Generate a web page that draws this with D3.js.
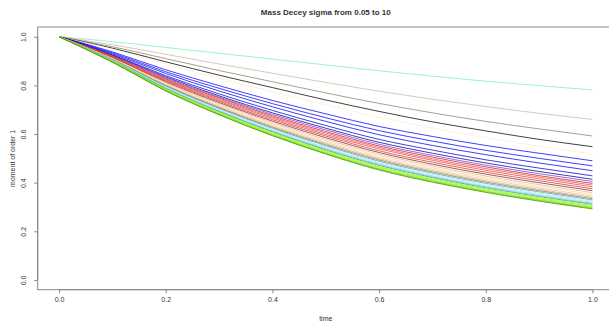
<!DOCTYPE html>
<html>
<head>
<meta charset="utf-8">
<script src="https://cdn.jsdelivr.net/npm/d3@7"></script>
<style>
  body { margin: 0; background: #fff; }
  text { font-family: "Liberation Sans", Arial, sans-serif; fill: #333; }
</style>
</head>
<body>
<div id="chart"></div>
<script>
// Data
var times = [0, 0.1, 0.2, 0.3, 0.4, 0.5, 0.6, 0.7, 0.8, 0.9, 1.0];
var xTicks = [0, 0.2, 0.4, 0.6, 0.8, 1.0];
var yTicks = [0, 0.2, 0.4, 0.6, 0.8, 1.0];

var lineColors = [
  "#76EEC6", "#CDB79E", "#8B7D6B", "#000000", "#FFEBCD",
  "#0000FF", "#0000FF", "#0000EE", "#0000CD", "#00008B",
  "#8A2BE2", "#A52A2A", "#FF4040", "#EE3B3B", "#CD3333", "#8B2323",
  "#DEB887", "#FFD39B", "#EEC591", "#CDAA7D", "#8B7355",
  "#5F9EA0", "#98F5FF", "#8EE5EE", "#7AC5CD", "#53868B",
  "#7FFF00", "#7FFF00", "#76EE00", "#66CD00", "#458B00"
];

// moment of order 1 for each sigma, sampled at the times above
var moments = [
  [1, 0.980, 0.956, 0.932, 0.908, 0.884, 0.860, 0.838, 0.817, 0.799, 0.781],
  [1, 0.967, 0.928, 0.888, 0.850, 0.812, 0.776, 0.743, 0.713, 0.685, 0.660],
  [1, 0.959, 0.910, 0.861, 0.815, 0.769, 0.726, 0.687, 0.652, 0.621, 0.592],
  [1, 0.953, 0.897, 0.842, 0.791, 0.740, 0.693, 0.650, 0.613, 0.578, 0.548],
  [1, 0.949, 0.888, 0.829, 0.774, 0.720, 0.669, 0.625, 0.585, 0.550, 0.518],
  [1, 0.938, 0.864, 0.799, 0.738, 0.683, 0.631, 0.590, 0.553, 0.521, 0.490],
  [1, 0.934, 0.856, 0.788, 0.725, 0.667, 0.614, 0.571, 0.533, 0.500, 0.469],
  [1, 0.930, 0.849, 0.777, 0.712, 0.652, 0.597, 0.553, 0.515, 0.481, 0.449],
  [1, 0.926, 0.840, 0.765, 0.697, 0.635, 0.578, 0.534, 0.494, 0.460, 0.428],
  [1, 0.924, 0.835, 0.757, 0.687, 0.624, 0.566, 0.521, 0.481, 0.446, 0.414],
  [1, 0.922, 0.831, 0.752, 0.681, 0.617, 0.558, 0.512, 0.472, 0.437, 0.405],
  [1, 0.920, 0.827, 0.748, 0.675, 0.610, 0.551, 0.505, 0.465, 0.429, 0.397],
  [1, 0.919, 0.824, 0.743, 0.670, 0.604, 0.545, 0.498, 0.458, 0.423, 0.390],
  [1, 0.917, 0.821, 0.739, 0.665, 0.598, 0.539, 0.492, 0.451, 0.416, 0.383],
  [1, 0.915, 0.818, 0.734, 0.659, 0.592, 0.531, 0.484, 0.443, 0.408, 0.375],
  [1, 0.914, 0.814, 0.729, 0.653, 0.585, 0.524, 0.476, 0.435, 0.400, 0.367],
  [1, 0.912, 0.811, 0.724, 0.647, 0.578, 0.517, 0.469, 0.427, 0.392, 0.359],
  [1, 0.910, 0.807, 0.720, 0.642, 0.572, 0.510, 0.462, 0.420, 0.385, 0.352],
  [1, 0.909, 0.804, 0.715, 0.636, 0.566, 0.503, 0.455, 0.413, 0.378, 0.345],
  [1, 0.907, 0.801, 0.711, 0.631, 0.561, 0.498, 0.449, 0.407, 0.372, 0.339],
  [1, 0.906, 0.799, 0.708, 0.627, 0.556, 0.493, 0.444, 0.402, 0.367, 0.334],
  [1, 0.905, 0.796, 0.705, 0.623, 0.552, 0.488, 0.439, 0.397, 0.362, 0.329],
  [1, 0.904, 0.794, 0.701, 0.619, 0.547, 0.483, 0.434, 0.392, 0.357, 0.324],
  [1, 0.902, 0.791, 0.698, 0.615, 0.543, 0.479, 0.429, 0.387, 0.352, 0.319],
  [1, 0.901, 0.789, 0.695, 0.612, 0.539, 0.475, 0.425, 0.383, 0.347, 0.315],
  [1, 0.900, 0.787, 0.692, 0.609, 0.535, 0.471, 0.421, 0.379, 0.343, 0.311],
  [1, 0.899, 0.784, 0.689, 0.605, 0.531, 0.466, 0.416, 0.374, 0.338, 0.306],
  [1, 0.898, 0.782, 0.686, 0.601, 0.527, 0.462, 0.412, 0.370, 0.334, 0.302],
  [1, 0.897, 0.780, 0.683, 0.598, 0.523, 0.458, 0.408, 0.366, 0.330, 0.298],
  [1, 0.896, 0.779, 0.681, 0.595, 0.520, 0.455, 0.405, 0.363, 0.327, 0.295],
  [1, 0.895, 0.777, 0.679, 0.593, 0.518, 0.452, 0.402, 0.360, 0.324, 0.292]
];

// SVG area
var svgWidth = 609;
var svgHeight = 325;

// plot box (R pads the data range by 4%)
var box = { left: 37.7, top: 27, right: 613.8, bottom: 289.7 };

var svg = d3.select("#chart")
  .append("svg")
  .attr("width", svgWidth)
  .attr("height", svgHeight);

var xScale = d3.scaleLinear()
  .domain([-0.04, 1.04])
  .range([box.left, box.right]);

var yScale = d3.scaleLinear()
  .domain([-0.04, 1.04])
  .range([box.bottom, box.top]);

// Lines
var line = d3.line()
  .x(function(d, i) { return xScale(times[i]); })
  .y(function(d) { return yScale(d); })
  .curve(d3.curveMonotoneX);

svg.append("g")
  .selectAll("path")
  .data(moments)
  .enter()
  .append("path")
  .attr("d", line)
  .attr("fill", "none")
  .attr("stroke", function(d, i) { return lineColors[i]; })
  .attr("stroke-width", 1)
  .attr("stroke-opacity", 0.75);

// Box
svg.append("rect")
  .attr("x", box.left)
  .attr("y", box.top)
  .attr("width", box.right - box.left)
  .attr("height", box.bottom - box.top)
  .attr("fill", "none")
  .attr("stroke", "#888")
  .attr("stroke-width", 1);

// Axes, R style
var bottomAxis = d3.axisBottom(xScale)
  .tickValues(xTicks)
  .tickSize(3.5)
  .tickPadding(4)
  .tickFormat(d3.format(".1f"));

var xAxisG = svg.append("g")
  .attr("transform", `translate(0, ${box.bottom})`)
  .call(bottomAxis);
xAxisG.select(".domain")
  .attr("d", `M${xScale(0)},0H${xScale(1)}`)
  .attr("stroke", "#888");
xAxisG.selectAll(".tick line").attr("stroke", "#888");
xAxisG.selectAll(".tick text")
  .style("font-size", "7px")
  .attr("fill", "#333");

var leftAxis = d3.axisLeft(yScale)
  .tickValues(yTicks)
  .tickSize(3.5)
  .tickFormat(d3.format(".1f"));

var yAxisG = svg.append("g")
  .attr("transform", `translate(${box.left}, 0)`)
  .call(leftAxis);
yAxisG.select(".domain")
  .attr("d", `M0,${yScale(0)}V${yScale(1)}`)
  .attr("stroke", "#888");
yAxisG.selectAll(".tick line").attr("stroke", "#888");
yAxisG.selectAll(".tick text")
  .attr("x", null)
  .attr("dy", null)
  .attr("transform", "translate(-14.5, 0) rotate(-90)")
  .attr("text-anchor", "middle")
  .attr("dominant-baseline", "central")
  .style("font-size", "7px")
  .attr("fill", "#333");

// Title and axis labels
svg.append("text")
  .attr("x", (box.left + box.right) / 2)
  .attr("y", 15)
  .attr("text-anchor", "middle")
  .style("font-size", "8px")
  .style("font-weight", "bold")
  .text("Mass Decey sigma from 0.05 to 10");

svg.append("text")
  .attr("x", (box.left + box.right) / 2)
  .attr("y", 320.5)
  .attr("text-anchor", "middle")
  .style("font-size", "7px")
  .text("time");

svg.append("text")
  .attr("transform", `translate(12.3, ${(box.top + box.bottom) / 2}) rotate(-90)`)
  .attr("text-anchor", "middle")
  .attr("dominant-baseline", "central")
  .style("font-size", "7px")
  .text("moment of order 1");
</script>
</body>
</html>
